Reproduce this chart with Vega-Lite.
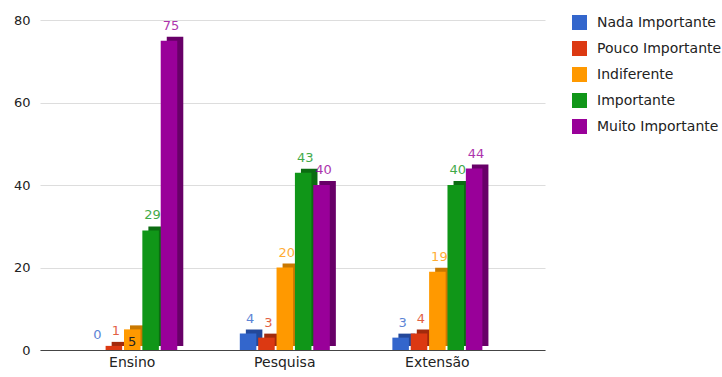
{
  "$schema": "https://vega.github.io/schema/vega-lite/v6.json",
  "width": 505,
  "height": 330,
  "autosize": {"type": "none"},
  "padding": {"left": 40, "top": 20, "right": 177, "bottom": 27},
  "background": "white",
  "config": {
    "view": {"stroke": null},
    "font": "DejaVu Sans",
    "axis": {"labelFont": "DejaVu Sans", "labelFontSize": 14, "labelColor": "#222222"},
    "legend": {"labelFont": "DejaVu Sans", "labelFontSize": 14, "labelColor": "#222222"}
  },
  "data": {
    "values": [
      {"cat": "Ensino", "serie": "Nada Importante", "value": 0},
      {"cat": "Ensino", "serie": "Pouco Importante", "value": 1},
      {"cat": "Ensino", "serie": "Indiferente", "value": 5},
      {"cat": "Ensino", "serie": "Importante", "value": 29},
      {"cat": "Ensino", "serie": "Muito Importante", "value": 75},
      {"cat": "Pesquisa", "serie": "Nada Importante", "value": 4},
      {"cat": "Pesquisa", "serie": "Pouco Importante", "value": 3},
      {"cat": "Pesquisa", "serie": "Indiferente", "value": 20},
      {"cat": "Pesquisa", "serie": "Importante", "value": 43},
      {"cat": "Pesquisa", "serie": "Muito Importante", "value": 40},
      {"cat": "Extensão", "serie": "Nada Importante", "value": 3},
      {"cat": "Extensão", "serie": "Pouco Importante", "value": 4},
      {"cat": "Extensão", "serie": "Indiferente", "value": 19},
      {"cat": "Extensão", "serie": "Importante", "value": 40},
      {"cat": "Extensão", "serie": "Muito Importante", "value": 44}
    ]
  },
  "encoding": {
    "x": {
      "field": "cat",
      "type": "nominal",
      "sort": ["Ensino", "Pesquisa", "Extensão"],
      "scale": {"domain": ["Ensino", "Pesquisa", "Extensão"], "paddingInner": 0.41, "paddingOuter": 0.36, "align": 0.43},
      "axis": {"title": null, "labelAngle": 0, "ticks": false, "domainColor": "#444444", "domainWidth": 1, "labelPadding": 5, "grid": false}
    },
    "xOffset": {
      "field": "serie",
      "type": "nominal",
      "sort": ["Nada Importante", "Pouco Importante", "Indiferente", "Importante", "Muito Importante"],
      "scale": {"domain": ["Nada Importante", "Pouco Importante", "Indiferente", "Importante", "Muito Importante"], "paddingInner": 0.1}
    },
    "y": {
      "field": "value",
      "type": "quantitative",
      "scale": {"domain": [0, 80]},
      "axis": {"title": null, "values": [0, 20, 40, 60, 80], "domain": false, "ticks": false, "labelPadding": 10, "gridColor": "#dddddd", "labelFontSize": 13}
    }
  },
  "resolve": {"scale": {"color": "independent", "x": "independent"}, "legend": {"color": "independent"}},
  "layer": [
    {
      "mark": {"type": "bar", "yOffset": -4},
      "encoding": {
        "x": {
          "field": "cat",
          "type": "nominal",
          "sort": ["Ensino", "Pesquisa", "Extensão"],
          "scale": {"domain": ["Ensino", "Pesquisa", "Extensão"], "paddingInner": 0.41, "paddingOuter": 0.36, "align": 0.485},
          "axis": null
        },
        "color": {
          "field": "serie",
          "type": "nominal",
          "scale": {
            "domain": ["Nada Importante", "Pouco Importante", "Indiferente", "Importante", "Muito Importante"],
            "range": ["#23489a", "#a22a0c", "#c97800", "#0b6c11", "#680068"]
          },
          "legend": null
        }
      }
    },
    {
      "layer": [
        {
          "mark": {"type": "bar"},
          "encoding": {
            "color": {
              "field": "serie",
              "type": "nominal",
              "sort": ["Nada Importante", "Pouco Importante", "Indiferente", "Importante", "Muito Importante"],
              "scale": {
                "domain": ["Nada Importante", "Pouco Importante", "Indiferente", "Importante", "Muito Importante"],
                "range": ["#3366cc", "#dc3912", "#ff9900", "#109618", "#990099"]
              },
              "legend": {
                "title": null,
                "orient": "none",
                "legendX": 532,
                "legendY": -5,
                "symbolType": "square",
                "symbolSize": 225,
                "symbolStrokeWidth": 0,
                "rowPadding": 11,
                "labelOffset": 10,
                "padding": 0
              }
            }
          }
        },
        {
          "transform": [{"filter": "!(datum.cat == 'Ensino' && datum.serie == 'Indiferente')"}],
          "mark": {"type": "text", "baseline": "bottom", "dy": -8, "dx": 2, "fontSize": 13, "opacity": 0.8},
          "encoding": {
            "text": {"field": "value", "type": "quantitative"},
            "color": {"field": "serie", "type": "nominal", "legend": null}
          }
        },
        {
          "transform": [{"filter": "datum.cat == 'Ensino' && datum.serie == 'Indiferente'"}],
          "mark": {"type": "text", "baseline": "middle", "dy": 13, "fontSize": 13, "color": "#222222"},
          "encoding": {
            "text": {"field": "value", "type": "quantitative"}
          }
        }
      ]
    }
  ]
}
